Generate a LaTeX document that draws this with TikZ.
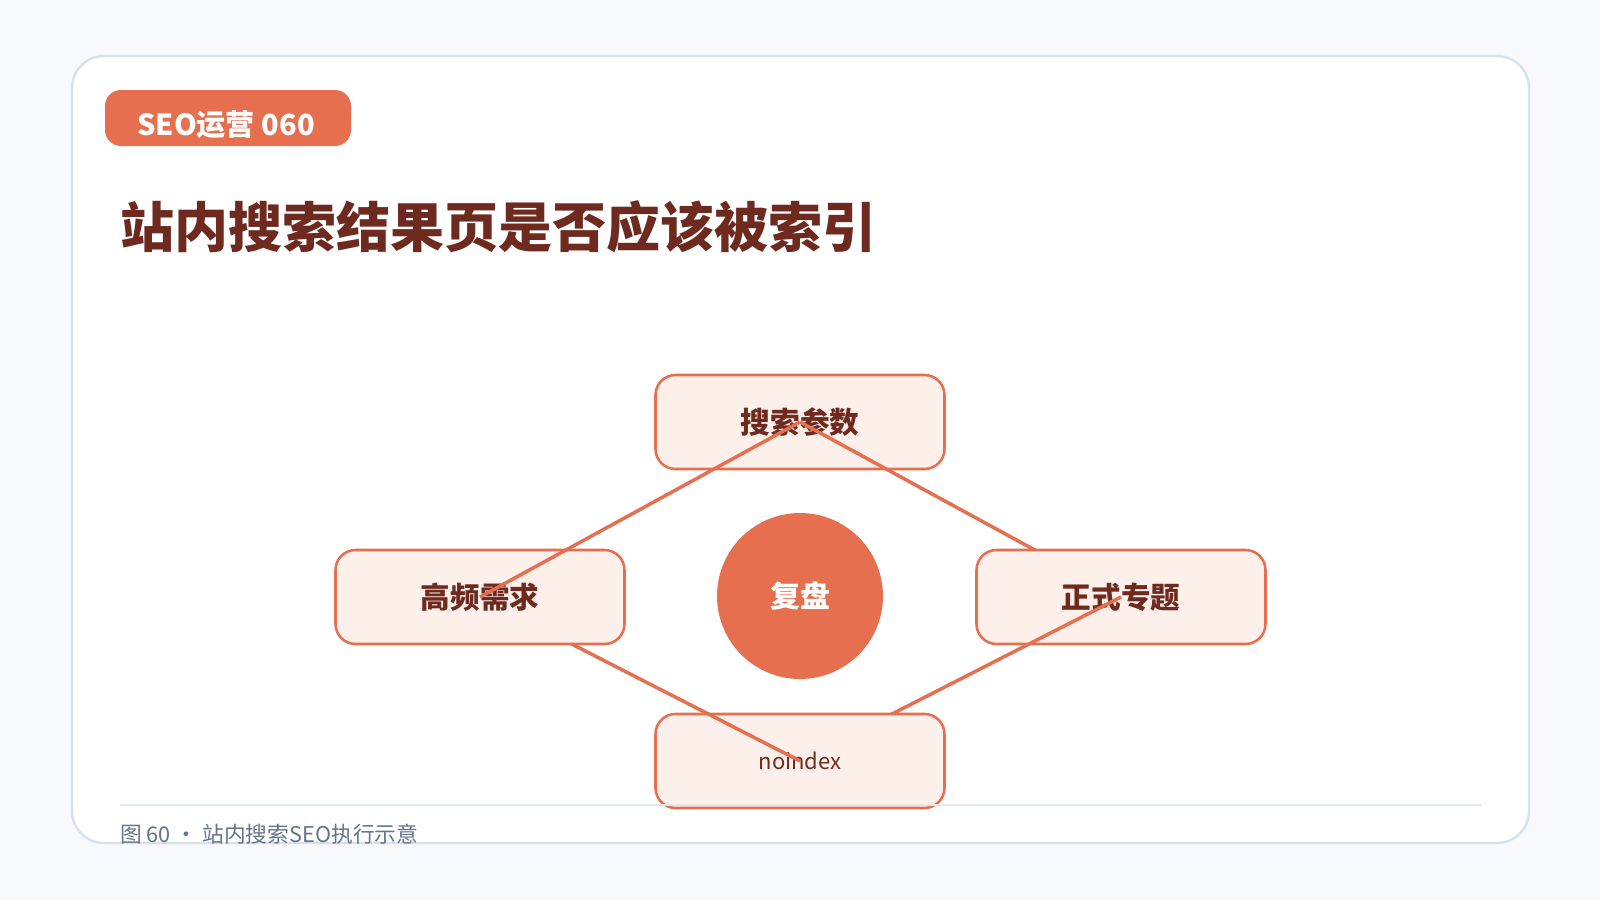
\documentclass[tikz,border=0pt]{standalone}
\usepackage{fontspec}
\setmainfont{Noto Sans CJK SC}
\usetikzlibrary{positioning}
\definecolor{pagebg}{HTML}{F7F9FC}
\definecolor{cardline}{HTML}{D8E1EB}
\definecolor{accent}{HTML}{E66F50}
\definecolor{boxfill}{HTML}{FDEFEA}
\definecolor{darkbrown}{HTML}{6E2A1E}
\definecolor{capgray}{HTML}{64748B}
\definecolor{sepline}{HTML}{E2E8F0}

\begin{document}
\begin{tikzpicture} [
      x = 0.75pt, y = -0.75pt,
      inner sep = 0,
      stepbox/.style = { draw = accent, line width = 1.9pt, fill = boxfill, rounded corners = 15pt,
                         minimum width = 216.75pt, minimum height = 70.5pt,
                         text = darkbrown, font = \fontsize{22.2}{26}\selectfont\bfseries },
      hub/.style = { circle, fill = accent, minimum size = 124.5pt, text = white,
                     font = \fontsize{22.5}{27}\selectfont\bfseries },
      link/.style = { draw = accent, line width = 2.6pt }
      ]

      \fill [pagebg] (0,0) rectangle (1600,900);
      \draw [cardline, line width = 1.8pt, fill = white, rounded corners = 24pt] (72,56) rectangle (1529,843);
      \fill [accent, rounded corners = 12pt] (105,90) rectangle (351,146);
      \node (badge) at (226,125) [text = white, font = \fontsize{21.8}{26}\selectfont\bfseries] {SEO运营 060};
      \node (title) at (120,227) [anchor = west, text = darkbrown, font = \fontsize{40.5}{48}\selectfont\bfseries] {站内搜索结果页是否应该被索引};

      \coordinate (c-param) at (800,422);
      \coordinate (c-topic) at (1121,597);
      \coordinate (c-noidx) at (800,761);
      \coordinate (c-freq) at (480,597);

      \node [stepbox] (param) at (c-param) {搜索参数};
      \draw [link] (c-param) -- (c-topic);
      \node [stepbox] (topic) at (c-topic) {正式专题};
      \draw [link] (c-topic) -- (c-noidx);
      \node [stepbox, font = \fontsize{16.5}{20}\selectfont] (noidx) at (c-noidx) {noindex};
      \draw [link] (c-noidx) -- (c-freq);
      \node [stepbox] (freq) at (c-freq) {高频需求};
      \draw [link] (freq.center) -- (param.center);

      \node [hub] (review) at (800,596) {复盘};

      \draw [sepline, line width = 1.2pt] (120,805) -- (1481,805);
      \node (caption) at (120,834) [anchor = west, text = capgray, font = \fontsize{16.3}{20}\selectfont] {图 60 · 站内搜索SEO执行示意};
    \end{tikzpicture}
\end{document}
